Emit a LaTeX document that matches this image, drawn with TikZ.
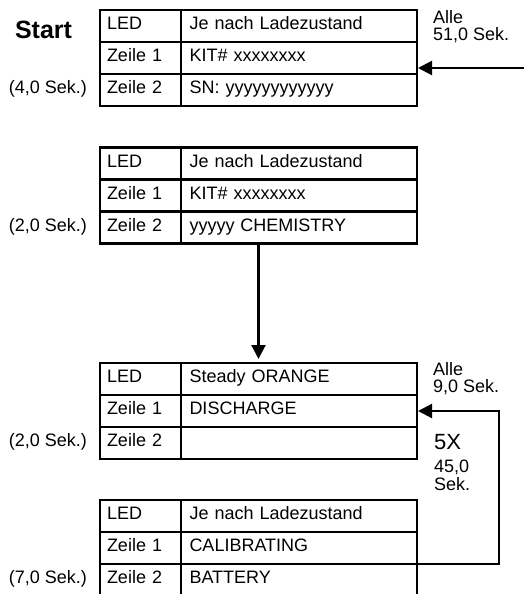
\documentclass[tikz,border=0pt]{standalone}
\usepackage{fontspec}
\setmainfont{Liberation Sans}
\usetikzlibrary{arrows.meta, positioning, calc}

\begin{document}
\begin{tikzpicture}[
    x=1pt, y=1pt,
    every node/.style={font=\fontsize{18}{17}\selectfont},
    keycell/.style={rectangle, draw=black, line width=2.2pt, outer sep=0pt, minimum height=32pt, text width=67pt, inner xsep=7pt, align=left, text height=12.6pt, text depth=5.4pt},
    valcell/.style={keycell, text width=219pt, inner xsep=8.5pt},
    dur/.style={inner sep=0pt, text height=12.6pt, text depth=5.4pt},
    note/.style={inner sep=0pt, align=left},
    arrow/.style={line width=2.2pt, -{Triangle[length=14pt,width=14pt]}}
]
\useasboundingbox (0,0) rectangle (524,-594);

% Tabelle 1
\node[keycell, anchor=north west] (t1-led) at (100,-10) {LED};
\node[valcell, right=0pt of t1-led] (t1-ledv) {Je nach Ladezustand};
\node[keycell, below=0pt of t1-led] (t1-z1) {Zeile 1};
\node[valcell, right=0pt of t1-z1] (t1-z1v) {KIT\# xxxxxxxx};
\node[keycell, below=0pt of t1-z1] (t1-z2) {Zeile 2};
\node[valcell, right=0pt of t1-z2] (t1-z2v) {SN: yyyyyyyyyyyy};

% Tabelle 2
\node[keycell, anchor=north west] (t2-led) at (100,-147.5) {LED};
\node[valcell, right=0pt of t2-led] (t2-ledv) {Je nach Ladezustand};
\node[keycell, below=0pt of t2-led] (t2-z1) {Zeile 1};
\node[valcell, right=0pt of t2-z1] (t2-z1v) {KIT\# xxxxxxxx};
\node[keycell, below=0pt of t2-z1] (t2-z2) {Zeile 2};
\node[valcell, right=0pt of t2-z2] (t2-z2v) {yyyyy CHEMISTRY};

% Tabelle 3
\node[keycell, anchor=north west] (t3-led) at (100,-363) {LED};
\node[valcell, right=0pt of t3-led] (t3-ledv) {Steady ORANGE};
\node[keycell, below=0pt of t3-led] (t3-z1) {Zeile 1};
\node[valcell, right=0pt of t3-z1] (t3-z1v) {DISCHARGE};
\node[keycell, below=0pt of t3-z1] (t3-z2) {Zeile 2};
\node[valcell, right=0pt of t3-z2] (t3-z2v) {};

% Tabelle 4
\node[keycell, anchor=north west] (t4-led) at (100,-500) {LED};
\node[valcell, right=0pt of t4-led] (t4-ledv) {Je nach Ladezustand};
\node[keycell, below=0pt of t4-led] (t4-z1) {Zeile 1};
\node[valcell, right=0pt of t4-z1] (t4-z1v) {CALIBRATING};
\node[keycell, below=0pt of t4-z1] (t4-z2) {Zeile 2};
\node[valcell, right=0pt of t4-z2] (t4-z2v) {BATTERY};

% Beschriftungen
\node[anchor=base, font=\fontsize{25}{25}\selectfont\bfseries] (start) at (43.5,-38) {Start};
\node[dur, left=13pt of t1-z2] (dur1) {(4,0 Sek.)};
\node[dur, left=13pt of t2-z2] (dur2) {(2,0 Sek.)};
\node[dur, left=13pt of t3-z2] (dur3) {(2,0 Sek.)};
\node[dur, left=13pt of t4-z2] (dur4) {(7,0 Sek.)};
\node[note, anchor=north west] (cycle1) at ([xshift=16pt]t1-ledv.north east) {Alle\\51,0 Sek.};
\node[note, anchor=north west] (cycle3) at ([xshift=16pt,yshift=1pt]t3-ledv.north east) {Alle\\9,0 Sek.};
\node[anchor=north west, inner sep=0pt, font=\fontsize{22}{22}\selectfont] (count) at ([xshift=17pt,yshift=-7pt]t3-z2v.north east) {5X};
\node[note, anchor=north west] (total) at ([yshift=-10pt]count.south west) {45,0\\[1pt]Sek.};

% Pfeile
\coordinate (feed) at (524,-68);
\draw[arrow, shorten >=1pt] (feed) -- (feed -| t1-z1v.east);
\draw[arrow, shorten >=4pt] ($(t2-z2.south west)!.5!(t2-z2v.south east)$) -- ($(t3-led.north west)!.5!(t3-ledv.north east)$);
\draw[arrow, shorten >=1pt] (t4-z1v.south east) -- ++(82,0) |- (t3-z1v.east);

\end{tikzpicture}
\end{document}
